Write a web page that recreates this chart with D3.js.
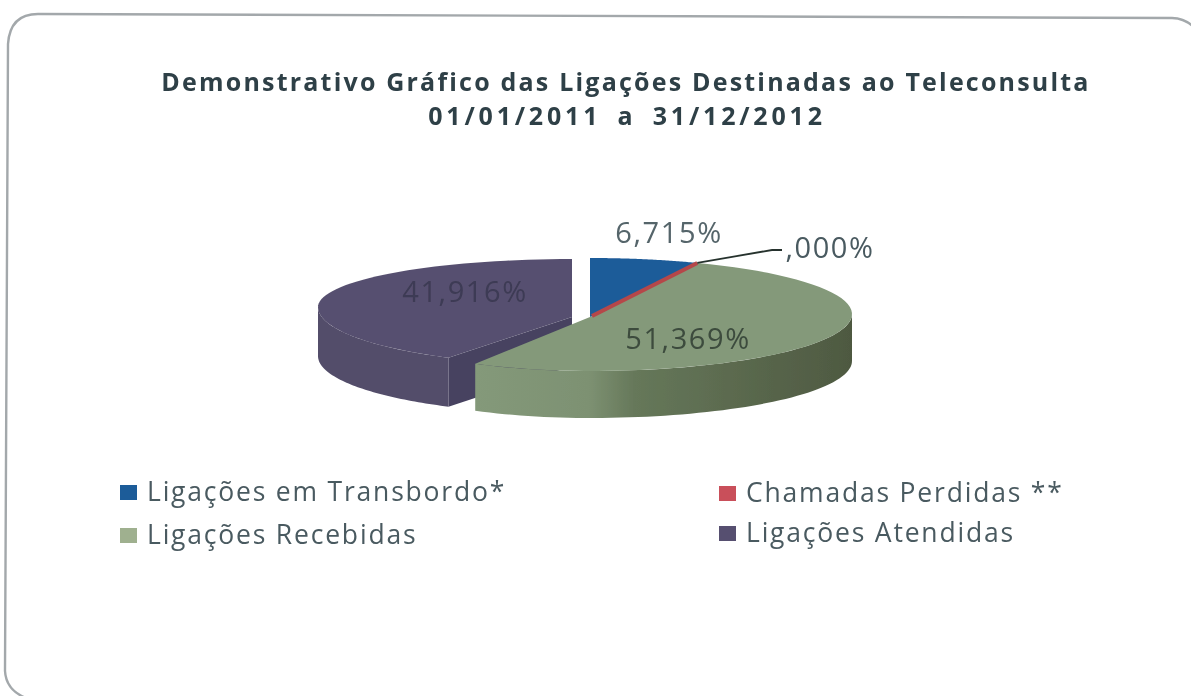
<!DOCTYPE html>
<html><head><meta charset="utf-8">
<script src="https://cdn.jsdelivr.net/npm/d3@7/dist/d3.min.js"></script>
<style>html,body{margin:0;padding:0;background:#fff}svg{display:block}text{font-family:"Open Sans",Lato,sans-serif}</style>
</head><body><div id="c"></div>
<script>
const categories = ["Ligações em Transbordo*", "Chamadas Perdidas **", "Ligações Recebidas", "Ligações Atendidas"];
const values = [6.715, 0, 51.369, 41.916];
const valueLabels = ["6,715%", ",000%", "51,369%", "41,916%"];
const titleLines = ["Demonstrativo Gráfico das Ligações Destinadas ao Teleconsulta", "01/01/2011 a 31/12/2012"];
const colors = ["#1f5c99", "#b5474a", "#84997a", "#57506f"];
const sideColors = ["#17466f", "#8a3638", "url(#greenSide)", "#534d6b"];

const W = 1191, H = 696;
const svg = d3.select("#c").append("svg").attr("width", W).attr("height", H);
const defs = svg.append("defs");
defs.append("filter").attr("id", "soft").attr("x", "-5%").attr("y", "-5%").attr("width", "110%").attr("height", "110%")
  .append("feGaussianBlur").attr("stdDeviation", 0.55);
const grad = defs.append("linearGradient").attr("id", "greenSide").attr("gradientUnits", "userSpaceOnUse")
  .attr("x1", 476).attr("x2", 852).attr("y1", 0).attr("y2", 0);
[[0, "#84997a"], [0.3, "#7d9172"], [0.42, "#66785a"], [1, "#4e5941"]].forEach(s =>
  grad.append("stop").attr("offset", s[0]).attr("stop-color", s[1]));

const root = svg.append("g").attr("filter", "url(#soft)");
root.append("path").attr("d", "M1194,27 Q1184,18 1172,18 L38,14 Q10,14 8,44 L5,671 Q6,690 26,698")
  .attr("fill", "none").attr("stroke", "#a3a8ab").attr("stroke-width", 2.4);

root.append("g").selectAll("text").data(titleLines).join("text")
  .attr("x", (d, i) => i ? 627 : 626).attr("y", (d, i) => 91 + i * 34)
  .attr("text-anchor", "middle").attr("font-weight", 700).attr("font-size", 25)
  .attr("letter-spacing", (d, i) => i ? 3.8 : 2.2).attr("word-spacing", (d, i) => i ? 6 : 0)
  .attr("fill", "#2f3f46").text(d => d);

const pieGen = d3.pie().value(d => d).sort(null);
const arcs = pieGen(values);
const mainGeom = {cx: 590, cy: 314, apexY: 317, rr: 262, rl: 236, ryBack: 56, ryFront: 57, depth: 47};
const geom = [mainGeom, mainGeom, mainGeom,
  {cx: 572, cy: 307, apexY: 317, rr: 262, rl: 254, ryBack: 48, ryFront: 58, depth: 49}];
const rim = (g, a) => {
  const s = Math.sin(a), k = Math.cos(a);
  return [g.cx + (s >= 0 ? g.rr : g.rl) * s, g.cy - (k >= 0 ? g.ryBack : g.ryFront) * k];
};
const line = d3.line();
const rimPts = (g, a0, a1) => d3.range(0, 61).map(i => rim(g, a0 + (a1 - a0) * i / 60));
const pieG = root.append("g");

const drawSide = (i, a0, a1) => {
  const g = geom[i], top = rimPts(g, a0, a1);
  pieG.append("path").attr("d", line(top.concat(top.slice().reverse().map(p => [p[0], p[1] + g.depth]))) + "Z").attr("fill", sideColors[i]);
};
const drawTop = i => {
  const g = geom[i], a = arcs[i];
  pieG.append("path").attr("d", line([[g.cx, g.apexY]].concat(rimPts(g, a.startAngle, a.endAngle))) + "Z").attr("fill", colors[i]);
};

// exploded slice first, with its darker cut face
const gp = geom[3], ap = arcs[3];
const p0 = rim(gp, ap.startAngle), c = [gp.cx, gp.apexY];
pieG.append("path").attr("d", line([c, p0, [p0[0], p0[1] + gp.depth], [c[0], c[1] + gp.depth]]) + "Z").attr("fill", "#464260");
drawSide(3, ap.startAngle, 1.5 * Math.PI);
drawTop(3);
// large slice
drawSide(2, Math.PI / 2, arcs[2].endAngle);
drawTop(2);
drawTop(0);
// the zero slice shows only as a red edge
const zeroEnd = rim(geom[1], arcs[1].endAngle);
pieG.append("path").attr("d", line([[geom[1].cx + 2, geom[1].apexY - 1], zeroEnd]))
  .attr("fill", "none").attr("stroke", colors[1]).attr("stroke-width", 4);

root.append("path").attr("d", line([zeroEnd, [772, 250], [782, 250]]))
  .attr("fill", "none").attr("stroke", "#26332d").attr("stroke-width", 1.8);

const labelPos = [[669, 243], [830, 258], [688, 349], [465, 302]];
const labelCol = ["#55656b", "#4a5a60", "#3c4c3e", "#3d3a54"];
root.append("g").selectAll("text").data(valueLabels).join("text")
  .attr("x", (d, i) => labelPos[i][0]).attr("y", (d, i) => labelPos[i][1])
  .attr("text-anchor", "middle").attr("font-size", 29).attr("letter-spacing", 1.6)
  .attr("fill", (d, i) => labelCol[i]).text(d => d);

const legendPos = [[120, 498], [719, 499], [120, 541], [719, 539]];
const legG = root.append("g").selectAll("g").data(categories).join("g")
  .attr("transform", (d, i) => `translate(${legendPos[i][0]},${legendPos[i][1]})`);
legG.append("rect").attr("x", 0).attr("y", -13).attr("width", 17).attr("height", 15)
  .attr("fill", (d, i) => ["#1f5c99", "#c9505a", "#9fb08f", "#57506f"][i]);
legG.append("text").attr("x", 27).attr("y", 3).attr("font-size", 26.5).attr("letter-spacing", 1.8)
  .attr("fill", "#4a5a60").text(d => d);
</script></body></html>
